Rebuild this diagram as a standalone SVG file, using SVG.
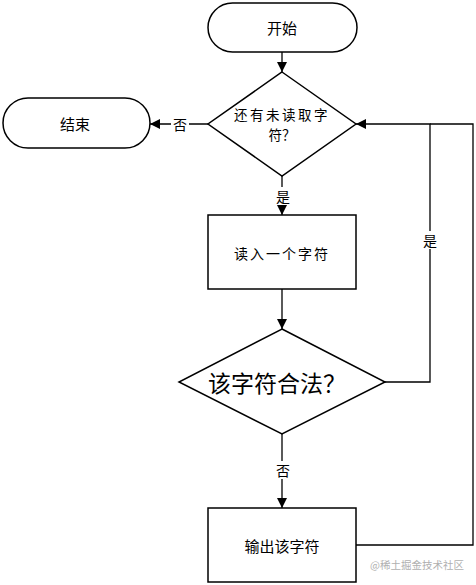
<svg xmlns="http://www.w3.org/2000/svg" width="476" height="585" viewBox="0 0 476 585">
<defs>
<marker id="arr" viewBox="0 0 10 10" refX="10" refY="5" markerWidth="10" markerHeight="10" markerUnits="userSpaceOnUse" orient="auto">
<path d="M0,0 L10,5 L0,10 Z" fill="#000"/>
</marker>
</defs>
<style>
.shape{fill:#fff;stroke:#000;stroke-width:1.5}
.t{font-family:"Noto Sans CJK SC","Liberation Sans",sans-serif;font-size:14px;fill:#000;text-anchor:middle;dominant-baseline:central}
.m{font-size:15px}
.big{font-size:23px}
.edge{fill:none;stroke:#000;stroke-width:1.3}
.lbl{font-family:"Noto Sans CJK SC","Liberation Sans",sans-serif;font-size:14px;fill:#000;text-anchor:middle;dominant-baseline:central}
.wm{font-family:"Noto Sans CJK SC","Liberation Sans",sans-serif;font-size:10.5px;fill:#b0b0b0}
</style>
<rect width="476" height="585" fill="#fff"/>
<g id="connectors">
<path class="edge" d="M282,52 V72" marker-end="url(#arr)"/>
<path class="edge" d="M208,124 H150" marker-end="url(#arr)"/>
<path class="edge" d="M282,176 V215" marker-end="url(#arr)"/>
<path class="edge" d="M282,289 V329" marker-end="url(#arr)"/>
<path class="edge" d="M385,382 H430 V124 H356" marker-end="url(#arr)"/>
<path class="edge" d="M282,434 V508" marker-end="url(#arr)"/>
<path class="edge" d="M356,545 H473 V124 H430"/>
<rect x="171" y="115" width="18" height="18" fill="#fff"/>
<text class="lbl" x="180" y="124">否</text>
<rect x="274" y="187" width="18" height="18" fill="#fff"/>
<text class="lbl" x="283" y="196">是</text>
<rect x="421" y="231" width="18" height="18" fill="#fff"/>
<text class="lbl" x="430" y="240">是</text>
<rect x="274" y="461" width="18" height="18" fill="#fff"/>
<text class="lbl" x="283" y="470">否</text>
</g>
<g id="start">
<rect class="shape" x="208" y="3" width="149" height="49" rx="24.5"/>
<text class="t m" x="282" y="27">开始</text>
</g>
<g id="check-more">
<path class="shape" d="M282,72 L356,124 L282,176 L208,124 Z"/>
<text class="t" x="282" y="114" style="font-size:13.5px"><tspan x="282" y="114" letter-spacing="2.5">还有未读取字</tspan><tspan x="282" y="134">符？</tspan></text>
</g>
<g id="end">
<rect class="shape" x="3" y="98" width="147" height="50" rx="25"/>
<text class="t m" x="75" y="123">结束</text>
</g>
<g id="read-char">
<rect class="shape" x="208" y="215" width="148" height="74"/>
<text class="t" x="282" y="253" letter-spacing="2">读入一个字符</text>
</g>
<g id="check-valid">
<path class="shape" d="M282,329 L385,382 L282,434 L179,382 Z"/>
<text class="t big" x="277" y="382">该字符合法？</text>
</g>
<g id="output-char">
<rect class="shape" x="208" y="508" width="148" height="74"/>
<text class="t m" x="282" y="545">输出该字符</text>
</g>
<text class="wm" x="370" y="569">@稀土掘金技术社区</text>
</svg>
